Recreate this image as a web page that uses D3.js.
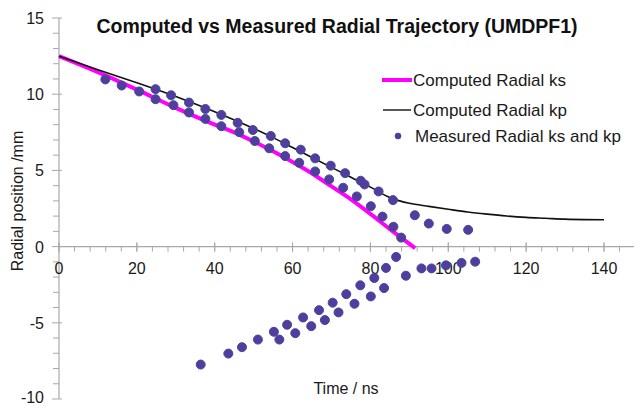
<!DOCTYPE html>
<html>
<head>
<meta charset="utf-8">
<script src="https://cdn.jsdelivr.net/npm/d3@7"></script>
<style>
  body { margin: 0; background: #fff; }
  svg { font-family: "Liberation Sans", Arial, sans-serif; }
</style>
</head>
<body>
<script>
(function(){

//computed radial trajectory, ks
var ksTime = [0, 10, 20, 30, 40, 45, 50, 55, 60, 65, 70, 75, 80, 85, 91.5];
var ksRadius = [12.5, 11.45, 10.3, 9.1, 8.0, 7.5, 6.9, 6.25, 5.55, 4.8, 3.95, 3.1, 2.15, 1.15, -0.1];

//computed radial trajectory, kp
var kpTime = [0, 10, 20, 30, 40, 50, 55, 60, 65, 70, 75, 80, 85, 87.5, 90, 95, 100, 105, 110, 115, 120, 125, 130, 135, 140];
var kpRadius = [12.5, 11.6, 10.75, 9.85, 8.85, 7.75, 7.15, 6.5, 5.85, 5.2, 4.55, 3.9, 3.22, 3.0, 2.84, 2.64, 2.45, 2.27, 2.13, 2.01, 1.92, 1.86, 1.8, 1.77, 1.76];

//measured radial, ks and kp
var measTime = [11.9, 16.1, 20.6, 24.8, 24.8, 28.8, 29.4, 33.4, 33.4, 37.6, 37.6, 41.7, 41.7, 45.9, 46.3,
    49.8, 50.3, 54.4, 54.0, 58.1, 58.1, 62.1, 61.7, 65.8, 65.8, 69.8, 69.4, 73.5, 73.0, 77.5, 78.5, 76.5,
    82.1, 80.1, 85.8, 83.1, 85.9, 87.9, 91.4, 95.0, 99.6, 105.1,
    36.4, 43.5, 47.0, 51.1, 55.2, 56.6, 58.6, 60.7, 62.7, 64.8, 66.8, 68.3, 70.3, 71.8, 73.8, 75.9,
    77.4, 80.1, 81.0, 83.5, 84.0, 86.6, 89.1, 93.1, 95.7, 99.4, 103.4, 106.9];
var measRadius = [10.97, 10.57, 10.18, 10.33, 9.67, 9.93, 9.28, 9.45, 8.8, 9.03, 8.38, 8.64, 7.9, 8.12, 7.51,
    7.65, 6.93, 7.26, 6.45, 6.78, 5.94, 6.36, 5.5, 5.79, 4.93, 5.31, 4.41, 4.82, 3.86, 4.32, 4.08, 3.29,
    3.62, 2.65, 3.05, 1.97, 1.3, 0.59, 2.06, 1.51, 1.16, 1.1,
    -7.74, -7.02, -6.6, -6.1, -5.59, -6.1, -5.13, -5.68, -4.65, -5.22, -4.17, -4.82, -3.68, -4.32, -3.12, -3.75,
    -2.54, -3.27, -2.06, -2.72, -1.4, -0.68, -1.91, -1.43, -1.43, -1.23, -1.07, -0.99];

var xTicks = [0, 20, 40, 60, 80, 100, 120, 140];
var yTicks = [-10, -5, 0, 5, 10, 15];
var legendLabels = ["Computed Radial ks", "Computed Radial kp", "Measured Radial ks and kp"];

var width = 640,
    height = 406;

var axisColor = "#a8a8a8",
    textColor = "#1a1a1a",
    dotFill = "#553a9f",
    dotStroke = "#3a5094";

var x = d3.scaleLinear().domain([0, 140]).range([59, 604]);
var y = d3.scaleLinear().domain([-10, 15]).range([399, 18]);

var svg = d3.select("body")
    .append("svg")
    .attr("width", width)
    .attr("height", height);

//y axis line and ticks
svg.append("line")
    .attr("x1", x(0)).attr("x2", x(0))
    .attr("y1", y(15)).attr("y2", y(-10))
    .attr("stroke", axisColor).attr("stroke-width", 1.2);

svg.selectAll(".yminor")
    .data(d3.range(-10, 16))
    .enter()
    .append("line")
    .attr("x1", function(d){ return d % 5 == 0 ? x(0) - 7 : x(0) - 6; })
    .attr("x2", function(d){ return d % 5 == 0 ? x(0) + 3 : x(0); })
    .attr("y1", function(d){ return y(d); })
    .attr("y2", function(d){ return y(d); })
    .attr("stroke", axisColor).attr("stroke-width", 1);

svg.selectAll(".ylabel")
    .data(yTicks)
    .enter()
    .append("text")
    .attr("x", 44)
    .attr("y", function(d){ return Math.min(y(d) + 6, 403); })
    .attr("text-anchor", "end")
    .attr("font-size", 16)
    .attr("fill", textColor)
    .text(function(d){ return d; });

//x axis along zero
svg.append("line")
    .attr("x1", x(0)).attr("x2", 634)
    .attr("y1", y(0)).attr("y2", y(0))
    .attr("stroke", axisColor).attr("stroke-width", 1.2);

svg.selectAll(".xminor")
    .data(d3.range(0, 148, 4).concat(xTicks))
    .enter()
    .append("line")
    .attr("x1", function(d){ return x(d); })
    .attr("x2", function(d){ return x(d); })
    .attr("y1", function(d){ return xTicks.indexOf(d) >= 0 ? y(0) - 4 : y(0); })
    .attr("y2", function(d){ return y(0) + 5; })
    .attr("stroke", axisColor).attr("stroke-width", 1);

svg.selectAll(".xlabel")
    .data(xTicks)
    .enter()
    .append("text")
    .attr("x", function(d){ return x(d); })
    .attr("y", 274)
    .attr("text-anchor", "middle")
    .attr("font-size", 16)
    .attr("fill", textColor)
    .text(function(d){ return d; });

//axis titles
svg.append("text")
    .attr("transform", "translate(23,201) rotate(-90)")
    .attr("text-anchor", "middle")
    .attr("font-size", 16)
    .attr("fill", textColor)
    .text("Radial position /mm");

svg.append("text")
    .attr("x", 346)
    .attr("y", 394)
    .attr("text-anchor", "middle")
    .attr("font-size", 16)
    .attr("fill", textColor)
    .text("Time / ns");

//chart title
svg.append("text")
    .attr("x", 337)
    .attr("y", 33)
    .attr("text-anchor", "middle")
    .attr("font-size", 19.5)
    .attr("font-weight", "bold")
    .attr("fill", "#111")
    .text("Computed vs Measured Radial Trajectory (UMDPF1)");

//computed lines
var line = d3.line()
    .x(function(d){ return x(d[0]); })
    .y(function(d){ return y(d[1]); })
    .curve(d3.curveMonotoneX);

svg.append("path")
    .datum(d3.zip(ksTime, ksRadius))
    .attr("d", line)
    .attr("fill", "none")
    .attr("stroke", "#ff00ff")
    .attr("stroke-width", 4);

svg.append("path")
    .datum(d3.zip(kpTime, kpRadius))
    .attr("d", line)
    .attr("fill", "none")
    .attr("stroke", "#111")
    .attr("stroke-width", 1.6);

//measured points
svg.selectAll(".dots")
    .data(d3.zip(measTime, measRadius))
    .enter()
    .append("circle")
    .attr("cx", function(d){ return x(d[0]); })
    .attr("cy", function(d){ return y(d[1]); })
    .attr("r", 4.5)
    .attr("fill", dotFill)
    .attr("stroke", dotStroke)
    .attr("stroke-width", 1);

//legend
var legend = svg.append("g");
legend.append("line")
    .attr("x1", 382).attr("x2", 412).attr("y1", 80).attr("y2", 80)
    .attr("stroke", "#ff00ff").attr("stroke-width", 4);
legend.append("line")
    .attr("x1", 383).attr("x2", 411).attr("y1", 110).attr("y2", 110)
    .attr("stroke", "#111").attr("stroke-width", 1.4);
legend.append("circle")
    .attr("cx", 398).attr("cy", 136).attr("r", 3)
    .attr("fill", dotFill).attr("stroke", dotStroke).attr("stroke-width", 0.8);

legend.selectAll(".legendText")
    .data(legendLabels)
    .enter()
    .append("text")
    .attr("x", function(d, i){ return i == 2 ? 415 : 413; })
    .attr("y", function(d, i){ return [86, 116, 142][i]; })
    .attr("font-size", 17)
    .attr("fill", textColor)
    .text(function(d){ return d; });

})();
</script>
</body>
</html>
